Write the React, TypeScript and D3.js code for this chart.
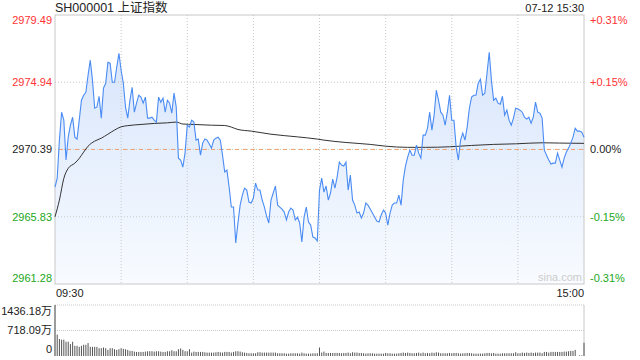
import React from 'react';
import * as d3 from 'd3';

const title = 'SH000001 上证指数';
const stamp = '07-12 15:30';
const prevClose = 2970.39;
const priceTicks = [2979.49, 2974.94, 2970.39, 2965.83, 2961.28];
const pctTicks = ['+0.31%', '+0.15%', '0.00%', '-0.15%', '-0.31%'];
const timeLabels = ['09:30', '15:00'];
const volTicks = [1436.18, 718.09, 0];
const volTickLabels = ['1436.18万', '718.09万', '0'];

const prices = [
  2967.84, 2968.45, 2971.02, 2972.91, 2972.37, 2969.67, 2971.22, 2972.03, 2972.57, 2971.22,
  2971.09, 2972.37, 2973.72, 2974.06, 2974.26, 2975.41, 2976.43, 2975.08, 2973.18, 2973.25,
  2973.99, 2972.51, 2974.54, 2974.87, 2976.29, 2976.23, 2974.94, 2974.94, 2975.95, 2976.90,
  2975.75, 2974.87, 2973.25, 2972.51, 2973.72, 2974.60, 2972.91, 2973.52, 2974.06, 2973.93,
  2973.52, 2973.93, 2972.51, 2972.51, 2972.57, 2972.37, 2972.24, 2973.93, 2973.59, 2973.86,
  2972.91, 2973.72, 2973.52, 2972.84, 2974.20, 2973.25, 2969.80, 2969.67, 2969.19, 2970.14,
  2972.03, 2971.90, 2972.37, 2972.24, 2971.02, 2971.09, 2970.00, 2970.82, 2971.09, 2971.02,
  2970.75, 2970.48, 2971.02, 2971.15, 2971.22, 2971.02, 2970.00, 2968.86, 2968.99, 2967.84,
  2966.49, 2966.49, 2964.06, 2965.41, 2966.62, 2967.30, 2967.77, 2967.64, 2966.83, 2966.76,
  2967.10, 2968.11, 2967.64, 2967.64, 2966.96, 2966.49, 2965.88, 2965.41, 2966.96, 2967.44,
  2967.91, 2966.62, 2966.49, 2966.35, 2966.15, 2965.61, 2966.15, 2966.42, 2966.29, 2965.61,
  2965.81, 2965.41, 2964.12, 2965.81, 2966.49, 2965.48, 2965.27, 2964.46, 2964.39, 2964.19,
  2967.64, 2968.45, 2967.50, 2967.91, 2966.96, 2967.44, 2968.38, 2967.77, 2968.52, 2969.53,
  2969.33, 2969.26, 2969.53, 2967.64, 2968.65, 2966.96, 2966.62, 2966.08, 2966.15, 2965.75,
  2966.08, 2966.76, 2966.62, 2966.35, 2966.08, 2965.81, 2965.54, 2965.48, 2965.95, 2966.29,
  2966.08, 2965.27, 2966.08, 2966.62, 2966.76, 2966.76, 2967.30, 2966.62, 2968.31, 2969.26,
  2969.87, 2970.34, 2970.00, 2970.00, 2970.68, 2970.14, 2969.80, 2971.36, 2971.36, 2971.83,
  2972.91, 2971.70, 2972.71, 2974.40, 2973.72, 2972.91, 2972.71, 2972.03, 2972.91, 2974.06,
  2972.37, 2972.37, 2970.55, 2969.67, 2971.02, 2971.49, 2971.02, 2971.90, 2973.18, 2973.93,
  2974.06, 2974.06, 2974.87, 2975.14, 2974.06, 2974.20, 2975.55, 2976.97, 2975.08, 2973.72,
  2973.86, 2973.52, 2973.45, 2973.99, 2972.71, 2973.05, 2972.37, 2972.03, 2972.51, 2973.18,
  2973.12, 2973.05, 2972.91, 2972.57, 2972.44, 2972.57, 2972.17, 2972.57, 2973.59, 2972.91,
  2972.84, 2972.51, 2970.34, 2970.00, 2969.67, 2969.40, 2969.46, 2969.46, 2970.14, 2969.67,
  2969.19, 2969.80, 2970.21, 2970.48, 2970.82, 2971.22, 2971.83, 2971.63, 2971.63, 2971.56,
  2971.22,
];

const avgMinutes = [0, 2, 4, 6, 9, 11, 13, 15, 18, 21, 24, 27, 30, 33, 39, 45, 51, 55, 58, 63, 71, 77, 80, 83, 89, 98, 110, 119, 122, 132, 143, 150, 160, 168, 179, 189, 199, 209, 221, 229, 240];
const avgValues = [2965.83, 2966.96, 2968.43, 2969.11, 2969.46, 2969.78, 2970.21, 2970.61, 2970.95, 2971.15, 2971.42, 2971.70, 2971.92, 2972.00, 2972.08, 2972.15, 2972.19, 2972.24, 2972.11, 2972.08, 2972.03, 2972.01, 2971.90, 2971.74, 2971.63, 2971.42, 2971.24, 2971.09, 2971.02, 2970.86, 2970.73, 2970.61, 2970.53, 2970.53, 2970.57, 2970.66, 2970.73, 2970.77, 2970.84, 2970.82, 2970.80];

const volumes = [
  1436, 603, 479, 460, 460, 402, 402, 335, 402, 287,
  287, 258, 287, 316, 316, 364, 258, 258, 258, 258,
  220, 220, 239, 220, 172, 220, 220, 191, 172, 191,
  220, 201, 191, 172, 144, 144, 124, 115, 115, 115,
  115, 124, 134, 134, 134, 124, 134, 134, 124, 115,
  115, 134, 134, 163, 134, 134, 191, 211, 172, 134,
  134, 191, 96, 124, 115, 115, 115, 115, 105, 96,
  96, 96, 96, 105, 115, 105, 96, 115, 115, 115,
  96, 115, 134, 134, 124, 105, 96, 86, 77, 77,
  77, 77, 105, 105, 96, 96, 96, 96, 96,
  96, 96, 77, 77, 77, 77, 67, 67, 77, 77,
  77, 77, 67, 96, 77, 67, 67, 67, 77, 77,
  77,
  239,
  96, 124, 86, 86, 86, 86, 86, 86, 86,
  77, 86, 86, 96, 77, 105, 96, 96, 86, 86,
  77, 67, 77, 77, 77, 67, 67, 67, 67,
  67, 86, 77, 77, 67, 67, 67, 77, 86, 96,
  86, 96, 86, 77, 77, 86, 96, 77, 96, 77,
  86, 77, 96, 86, 105, 96, 77, 77, 77, 77,
  86, 77, 86, 86, 77, 67, 77, 77, 86, 86,
  77, 67, 67, 67, 67, 67, 77, 86, 86, 77,
  86, 67, 67, 67, 77, 77, 77, 77, 77, 77,
  105, 77, 77, 96, 86, 96, 86, 96, 86, 96,
  96, 96, 77, 115, 115, 96, 115, 115, 115, 115,
  115, 115, 124, 124, 134, 144, 144, 172, 0, 19,
  19, 373,
];

const FONT = '"Liberation Sans", Arial, "Noto Sans CJK SC", sans-serif';
const RED = '#f33';
const GREEN = '#22a722';

export default function App() {
  const W = 640, H = 360;
  const left = 55, right = 584, top = 15, bottom = 284;
  const vTop = 305, vBottom = 356;

  const x = d3.scaleLinear().domain([0, 240]).range([left, right]);
  const y = d3.scaleLinear().domain([priceTicks[4], priceTicks[0]]).range([bottom, top]);
  const vy = d3.scaleLinear().domain([0, volTicks[0]]).range([vBottom, vTop]);

  const line = d3.line<number>().x((_, i) => x(i)).y(d => y(d));
  const area = d3.area<number>().x((_, i) => x(i)).y0(bottom).y1(d => y(d));
  const avgLine = d3.line<number>().x((_, i) => x(avgMinutes[i])).y(d => y(d)).curve(d3.curveMonotoneX);

  const colorFor = (v: number) => (v > prevClose + 1e-6 ? RED : v < prevClose - 1e-6 ? GREEN : '#222');
  const vGrid = d3.range(30, 240, 30);

  return (
    <svg width={W} height={H} style={{ position: 'absolute', left: 0, top: 0, background: '#fff' }} fontFamily={FONT}>
      <defs>
        <linearGradient id="fillG" gradientUnits="userSpaceOnUse" x1="0" y1={top} x2="0" y2={bottom}>
          <stop offset="0" stopColor="#d3e2fb" />
          <stop offset="1" stopColor="#f8fbff" />
        </linearGradient>
      </defs>
      <text x={left} y={12} fontSize={12.5} fill="#222">{title}</text>
      <text x={right} y={12} fontSize={11} fill="#222" textAnchor="end">{stamp}</text>

      {/* area */}
      <path d={area(prices) || ''} fill="url(#fillG)" />

      {/* grid */}
      {vGrid.map(m => (
        <line key={'v' + m} x1={x(m)} x2={x(m)} y1={top} y2={bottom} stroke="#c8c8c8" strokeDasharray="1,2" />
      ))}
      {[priceTicks[1], priceTicks[3]].map(p => (
        <line key={'h' + p} x1={left} x2={right} y1={y(p)} y2={y(p)} stroke="#c8c8c8" strokeDasharray="1,2" />
      ))}
      <line x1={left} x2={right} y1={y(prevClose)} y2={y(prevClose)} stroke="#c8c8c8" strokeDasharray="1,2" />
      <line x1={left + 4} x2={right} y1={y(prevClose)} y2={y(prevClose)} stroke="#f0a070" strokeDasharray="4,4" />

      <rect x={left} y={top} width={right - left} height={bottom - top} fill="none" stroke="#c8c8c8" />

      <path d={avgLine(avgValues) || ''} fill="none" stroke="#333" strokeWidth={1} />
      <path d={line(prices) || ''} fill="none" stroke="#4a8cf3" strokeWidth={1.1} />

      <text x={right - 2} y={281} fontSize={11} fill="#ccc" textAnchor="end">sina.com</text>

      {priceTicks.map((p, i) => {
        const yy = i === 0 ? top + 5 : i === priceTicks.length - 1 ? bottom - 6 : y(p);
        return (
          <g key={'pt' + i}>
            <text x={52} y={yy} dy="0.35em" fontSize={11} fill={colorFor(p)} textAnchor="end">{p.toFixed(2)}</text>
            <text x={590} y={yy} dy="0.35em" fontSize={11} fill={colorFor(p)}>{pctTicks[i]}</text>
          </g>
        );
      })}

      <text x={left + 1} y={297} fontSize={11} fill="#222">{timeLabels[0]}</text>
      <text x={right} y={297} fontSize={11} fill="#222" textAnchor="end">{timeLabels[1]}</text>

      {/* volume panel */}
      <line x1={left} x2={right} y1={vTop} y2={vTop} stroke="#c8c8c8" strokeDasharray="1,1" />
      <line x1={left} x2={right} y1={vy(volTicks[1])} y2={vy(volTicks[1])} stroke="#c8c8c8" strokeDasharray="1,1" />
      <line x1={left} x2={left} y1={vTop} y2={vBottom} stroke="#c8c8c8" />
      <line x1={right} x2={right} y1={vTop} y2={vBottom} stroke="#c8c8c8" />
      {volumes.map((v, i) => (
        <rect key={'vb' + i} x={x(i) - 0.5} y={vy(v)} width={1} height={Math.max(0, vBottom - vy(v))} fill="#555" />
      ))}
      {volTicks.map((v, i) => {
        const yy = i === 0 ? vTop + 6 : i === volTicks.length - 1 ? vBottom - 7 : vy(v);
        return (
          <text key={'vt' + i} x={52} y={yy} dy="0.35em" fontSize={11} fill="#222" textAnchor="end">{volTickLabels[i]}</text>
        );
      })}
    </svg>
  );
}
